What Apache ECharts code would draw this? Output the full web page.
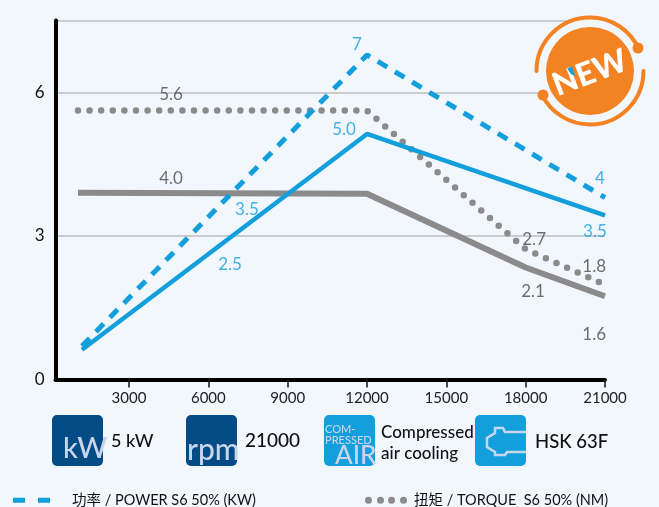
<!DOCTYPE html>
<html><head><meta charset="utf-8">
<style>html,body{margin:0;padding:0;background:#f2f7fe}#c{width:659px;height:507px}</style>
<script src="https://cdn.jsdelivr.net/npm/echarts@6/dist/echarts.min.js"></script></head>
<body><div id="c"></div>
<script>
const xTicks=[3000,6000,9000,12000,15000,18000,21000];
const yLabels=[0,3,6];
const yGrid=[0,3,6,7.5];
const powerDashed=[[1220,0.7],[12000,6.78],[21000,3.8]];
const powerSolid=[[1220,0.62],[12000,5.13],[21000,3.43]];
const torqueDotted=[[1070,5.62],[12000,5.62],[18000,2.72],[21000,1.98]];
const torqueSolid=[[1070,3.9],[12000,3.88],[18000,2.34],[21000,1.74]];
const labelBlueX=[11620,11130,7460,6820,20810,20620];
const labelBlueY=[7.0,5.23,3.56,2.41,4.2,3.1];
const labelBlueText=['7','5.0','3.5','2.5','4','3.5'];
const labelGrayX=[4590,4590,18320,20590,18280,20590];
const labelGrayY=[5.96,4.2,2.93,2.36,1.84,0.94];
const labelGrayText=['5.6','4.0','2.7','1.8','2.1','1.6'];
const powerName='功率 / POWER S6 50% (KW)';
const torqueName='扭矩 / TORQUE  S6 50% (NM)';
const BG='#f2f7fe',BLUE='#129fdb',GRAY='#8b8b8b',NAVY='#034b85',ORANGE='#f38223',ICON='#c9d6ea';
const FONT='Lato,"Noto Sans CJK SC",sans-serif';
const zipLabels=(xs,ys,ts)=>xs.map((x,i)=>({value:[x,ys[i]],text:ts[i]}));
const t=(x,y,text,size,fill,extra,scaleX)=>({type:'text',x,y,z:20,scaleX:scaleX||1,style:Object.assign({text,fontSize:size,fontFamily:FONT,fontWeight:500,fill,textVerticalAlign:'middle',textBaseline:'middle'},extra||{})});
const box=(x,color)=>({type:'rect',z:10,shape:{x,y:415,width:51,height:51,r:5},style:{fill:color}});
const chart=echarts.init(document.getElementById('c'),null,{renderer:'canvas'});
chart.setOption({
 backgroundColor:BG,animation:false,textStyle:{fontFamily:FONT},
 grid:{left:55.5,right:54,top:20.5,bottom:127.5},
 xAxis:{type:'value',min:220,max:21000,
  axisLine:{show:true,onZero:false,lineStyle:{color:'#000',width:4}},
  axisTick:{show:true,length:8,customValues:xTicks,lineStyle:{color:'#111',width:1.5}},
  axisLabel:{customValues:xTicks,color:'#222',fontSize:15,margin:11,formatter:v=>String(v),showMinLabel:true,showMaxLabel:true},
  splitLine:{show:false}},
 yAxis:{type:'value',min:0,max:7.5,
  axisLine:{show:true,onZero:false,lineStyle:{color:'#000',width:4}},
  axisTick:{show:false,customValues:yGrid},
  axisLabel:{customValues:yLabels,color:'#111',fontSize:17,margin:11},
  splitLine:{show:true,lineStyle:{color:'#bdbdbd',width:1.5}}},
 legend:[
  {left:8,top:488,itemWidth:37,itemHeight:5,icon:'path://M0 0h12v5H0z M25 0h12v5H25z',data:[powerName],textStyle:{fontSize:14.5,color:'#111',padding:[0,0,0,17]}},
  {left:360,top:488,itemWidth:42,itemHeight:7,icon:'path://M0 3.5a3.5 3.5 0 1 0 7 0a3.5 3.5 0 1 0-7 0z M12 3.5a3.5 3.5 0 1 0 7 0a3.5 3.5 0 1 0-7 0z M23 3.5a3.5 3.5 0 1 0 7 0a3.5 3.5 0 1 0-7 0z M35 3.5a3.5 3.5 0 1 0 7 0a3.5 3.5 0 1 0-7 0z',data:[torqueName],textStyle:{fontSize:14.5,color:'#111',padding:[0,0,0,2]}}
 ],
 series:[
  {name:torqueName,type:'line',data:torqueDotted,showSymbol:false,symbol:'none',lineStyle:{color:GRAY,width:6.5,type:[0,11.6],cap:'round'},itemStyle:{color:GRAY}},
  {name:'torqueSolid',type:'line',data:torqueSolid,showSymbol:false,symbol:'none',lineStyle:{color:GRAY,width:6},itemStyle:{color:GRAY}},
  {name:powerName,type:'line',data:powerDashed,showSymbol:false,symbol:'none',lineStyle:{color:BLUE,width:5,type:[11,9]},itemStyle:{color:BLUE}},
  {name:'powerSolid',type:'line',data:powerSolid,showSymbol:false,symbol:'none',lineStyle:{color:BLUE,width:4.5},itemStyle:{color:BLUE}},
  {type:'scatter',symbolSize:0,data:zipLabels(labelBlueX,labelBlueY,labelBlueText),silent:true,
   label:{show:true,position:'inside',color:BLUE,fontSize:17,formatter:p=>p.data.text}},
  {type:'scatter',symbolSize:0,data:zipLabels(labelGrayX,labelGrayY,labelGrayText),silent:true,
   label:{show:true,position:'inside',color:'#4a4a4a',fontSize:17,formatter:p=>p.data.text}}
 ],
 graphic:[
  {type:'circle',z:10,shape:{cx:590,cy:71,r:55},style:{fill:BG}},
  {type:'circle',z:11,shape:{cx:590,cy:71,r:44},style:{fill:ORANGE}},
  {type:'arc',z:11,shape:{cx:590,cy:71,r:53.5,startAngle:Math.PI*1.0,endAngle:Math.PI*1.87,clockwise:true},style:{stroke:ORANGE,lineWidth:4,fill:null,lineCap:'round'}},
  {type:'arc',z:11,shape:{cx:590,cy:71,r:53.5,startAngle:Math.PI*0.0,endAngle:Math.PI*0.86,clockwise:true},style:{stroke:ORANGE,lineWidth:4,fill:null,lineCap:'round'}},
  {type:'circle',z:11,shape:{cx:638,cy:48,r:5.5},style:{fill:ORANGE}},
  {type:'circle',z:11,shape:{cx:543,cy:95,r:5.5},style:{fill:ORANGE}},
  {type:'text',z:13,x:590,y:73,rotation:0.36,style:{text:'NEW',fontSize:32,fontWeight:900,fontFamily:'Lato,sans-serif',fill:'#fff',textAlign:'center',textVerticalAlign:'middle',textBaseline:'middle'}},
  {type:'polygon',z:14,shape:{points:[[567,68],[572,67],[575,76],[571,74]]},style:{fill:BLUE}},
  box(52,NAVY),box(186,NAVY),box(324,BLUE),box(475,BLUE),
  t(63,449,'kW',29,ICON),
  t(187,450,'rpm',30,ICON),
  t(325,429,'COM-',11,ICON),
  t(325,440,'PRESSED',11,ICON),
  t(335,456,'AIR',26,ICON),
  {type:'polyline',z:12,shape:{points:[[526,432],[505,432],[503,428],[495,428],[495,433],[487,438],[487,447],[495,452],[495,455],[505,455],[507,452],[526,452]]},style:{stroke:ICON,lineWidth:2.5,fill:null}},
  t(111,441,'5 kW',18,'#111'),
  t(245,441,'21000',19,'#111'),
  t(381,433,'Compressed',17,'#111'),
  t(381,454,'air cooling',17,'#111'),
  t(535,442,'HSK 63F',18.5,'#111')
 ]
});
</script></body></html>
